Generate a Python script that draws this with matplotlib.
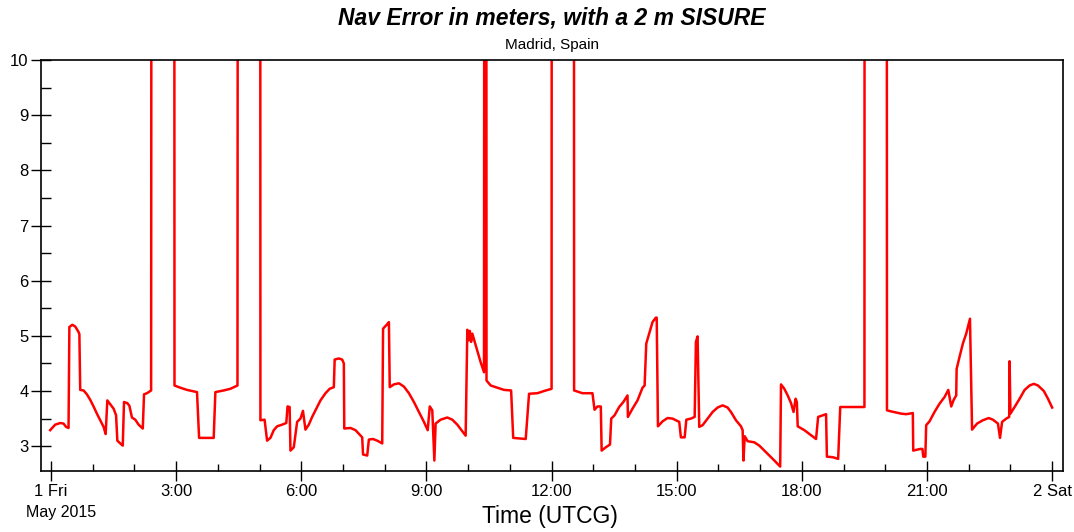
import matplotlib
matplotlib.use("Agg")
import matplotlib.pyplot as plt
from matplotlib.ticker import MultipleLocator, FixedLocator

plt.rcParams['font.family'] = ['Liberation Sans', 'DejaVu Sans']

# hours since 1 May 2015 00:00 UTCG
hours = [-0.02, 0.10, 0.22, 0.30, 0.36, 0.42, 0.44, 0.51, 0.58, 0.66, 0.68, 0.70, 0.78, 0.86, 0.94,
         1.02, 1.10, 1.18, 1.26, 1.31, 1.35, 1.42, 1.50, 1.56, 1.59, 1.66, 1.72, 1.75, 1.83, 1.88,
         1.94, 2.02, 2.10, 2.20, 2.23, 2.30, 2.40, 2.42, 2.95, 2.96, 3.10, 3.26, 3.50, 3.55, 3.90,
         3.94, 4.14, 4.30, 4.47, 4.49, 5.01, 5.02, 5.12, 5.18, 5.26, 5.34, 5.42, 5.54, 5.64, 5.67,
         5.72, 5.74, 5.82, 5.90, 5.98, 6.04, 6.10, 6.18, 6.26, 6.36, 6.46, 6.58, 6.68, 6.78, 6.80,
         6.90, 6.98, 7.02, 7.03, 7.18, 7.30, 7.40, 7.46, 7.48, 7.58, 7.62, 7.72, 7.82, 7.94, 7.96,
         8.07, 8.10, 8.12, 8.22, 8.34, 8.46, 8.58, 8.70, 8.82, 8.94, 9.03, 9.08, 9.14, 9.19, 9.22,
         9.34, 9.50, 9.62, 9.74, 9.86, 9.94, 9.98, 10.01, 10.04, 10.07, 10.10, 10.18, 10.30, 10.38,
         10.40, 10.43, 10.44, 10.54, 10.70, 10.86, 11.03, 11.08, 11.38, 11.46, 11.66, 11.82, 12.00,
         12.01, 12.53, 12.54, 12.74, 12.98, 13.03, 13.10, 13.18, 13.20, 13.30, 13.40, 13.43, 13.51,
         13.62, 13.72, 13.82, 13.83, 13.94, 14.06, 14.18, 14.23, 14.27, 14.34, 14.42, 14.50, 14.52,
         14.55, 14.66, 14.78, 14.90, 15.06, 15.10, 15.19, 15.23, 15.34, 15.43, 15.46, 15.50, 15.54,
         15.62, 15.74, 15.86, 15.98, 16.10, 16.22, 16.30, 16.42, 16.54, 16.58, 16.60, 16.63, 16.70,
         16.86, 16.98, 17.10, 17.22, 17.34, 17.48, 17.50, 17.58, 17.66, 17.74, 17.80, 17.85, 17.88,
         17.90, 18.06, 18.20, 18.34, 18.39, 18.50, 18.58, 18.60, 18.74, 18.87, 18.92, 19.50, 19.51,
         20.03, 20.04, 20.14, 20.38, 20.50, 20.66, 20.67, 20.84, 20.89, 20.91, 20.96, 20.98, 21.06,
         21.18, 21.30, 21.42, 21.51, 21.58, 21.64, 21.70, 21.71, 21.78, 21.86, 21.94, 22.03, 22.08,
         22.20, 22.34, 22.48, 22.58, 22.70, 22.75, 22.80, 22.90, 22.97, 22.98, 23.00, 23.10, 23.22,
         23.34, 23.46, 23.56, 23.66, 23.80, 23.90, 24.00]

nav_error = [3.29, 3.39, 3.42, 3.41, 3.35, 3.33, 5.16, 5.20, 5.17, 5.07, 5.03, 4.02, 4.01, 3.94, 3.84,
             3.72, 3.59, 3.47, 3.35, 3.22, 3.83, 3.76, 3.68, 3.56, 3.10, 3.05, 3.01, 3.80, 3.78, 3.73,
             3.52, 3.48, 3.39, 3.32, 3.94, 3.96, 4.01, 30.0, 30.0, 4.10, 4.06, 4.02, 3.98, 3.15, 3.15,
             3.98, 4.01, 4.04, 4.10, 30.0, 30.0, 3.47, 3.48, 3.10, 3.15, 3.29, 3.36, 3.39, 3.42, 3.72,
             3.71, 2.92, 2.98, 3.44, 3.50, 3.64, 3.30, 3.39, 3.53, 3.68, 3.83, 3.96, 4.04, 4.07, 4.57,
             4.59, 4.57, 4.50, 3.32, 3.33, 3.29, 3.21, 3.16, 2.85, 2.83, 3.12, 3.13, 3.10, 3.05, 5.13,
             5.22, 5.25, 4.07, 4.12, 4.14, 4.08, 3.96, 3.80, 3.62, 3.44, 3.29, 3.72, 3.65, 2.74, 3.41,
             3.48, 3.52, 3.48, 3.39, 3.27, 3.19, 5.11, 4.92, 5.09, 4.89, 5.04, 4.83, 4.52, 4.34,
             30.0, 30.0, 4.19, 4.10, 4.06, 4.02, 4.01, 3.15, 3.13, 3.95, 3.96, 4.00, 4.04,
             30.0, 30.0, 4.01, 3.96, 3.96, 3.66, 3.72, 3.72, 2.92, 2.98, 3.03, 3.50, 3.56,
             3.71, 3.80, 3.92, 3.53, 3.68, 3.83, 4.06, 4.10, 4.86, 5.04, 5.25, 5.33, 5.33,
             3.36, 3.45, 3.51, 3.50, 3.44, 3.16, 3.16, 3.48, 3.50, 3.53, 4.89, 4.99, 3.35,
             3.38, 3.50, 3.62, 3.70, 3.74, 3.70, 3.62, 3.47, 3.36, 3.29, 2.74, 3.18, 3.09,
             3.07, 3.01, 2.92, 2.83, 2.74, 2.63, 4.12, 4.04, 3.92, 3.78, 3.62, 3.86, 3.80,
             3.36, 3.29, 3.21, 3.13, 3.53, 3.56, 3.58, 2.81, 2.80, 2.77, 3.71, 3.71, 30.0,
             30.0, 3.65, 3.63, 3.59, 3.58, 3.60, 2.92, 2.95, 2.95, 2.81, 2.81, 3.38, 3.45,
             3.62, 3.77, 3.89, 4.02, 3.72, 3.84, 3.92, 4.40, 4.62, 4.86, 5.04, 5.31, 3.30,
             3.41, 3.47, 3.51, 3.48, 3.41, 3.15, 3.44, 3.50, 3.53, 4.54, 3.59, 3.71, 3.86,
             4.02, 4.10, 4.13, 4.10, 4.00, 3.86, 3.70]

tick_hours = [0, 3, 6, 9, 12, 15, 18, 21, 24]
tick_labels = ["1 Fri", "3:00", "6:00", "9:00", "12:00", "15:00", "18:00", "21:00", "2 Sat"]

fig = plt.figure(figsize=(10.74, 5.32), dpi=100)
ax = fig.add_axes([41/1074, 1-471/532, (1063-41)/1074, (471-60)/532])

ax.plot(hours, nav_error, color='#ff0000', lw=1.8, solid_joinstyle='round')

ax.set_xlim(-0.24, 24.26)
ax.set_ylim(2.55, 10)

ax.xaxis.set_major_locator(FixedLocator(tick_hours))
ax.set_xticklabels(tick_labels)
ax.xaxis.set_minor_locator(MultipleLocator(1))
ax.yaxis.set_major_locator(MultipleLocator(1))
ax.yaxis.set_minor_locator(MultipleLocator(0.5))

ax.tick_params(axis='both', which='major', direction='inout', length=14, width=1,
               labelsize=12, colors='black')
ax.tick_params(axis='y', which='minor', direction='in', length=7, width=1)
ax.tick_params(axis='x', which='minor', direction='in', length=5, width=1)
ax.tick_params(axis='x', which='major', pad=2)
ax.tick_params(axis='y', which='major', pad=2)

for s in ax.spines.values():
    s.set_color('black')
    s.set_linewidth(1.2)

fig.text(552/1074, 1-18/532, "Nav Error in meters, with a 2 m SISURE", ha='center', va='center',
         fontsize=16.5, fontweight='bold', fontstyle='italic')
fig.text(552/1074, 1-45/532, "Madrid, Spain", ha='center', va='center', fontsize=11)
fig.text(550/1074, 1-516/532, "Time (UTCG)", ha='center', va='center', fontsize=16.5)
fig.text(26/1074, 1-512/532, "May 2015", ha='left', va='center', fontsize=11.5)

fig.savefig("out.png", dpi=100)
